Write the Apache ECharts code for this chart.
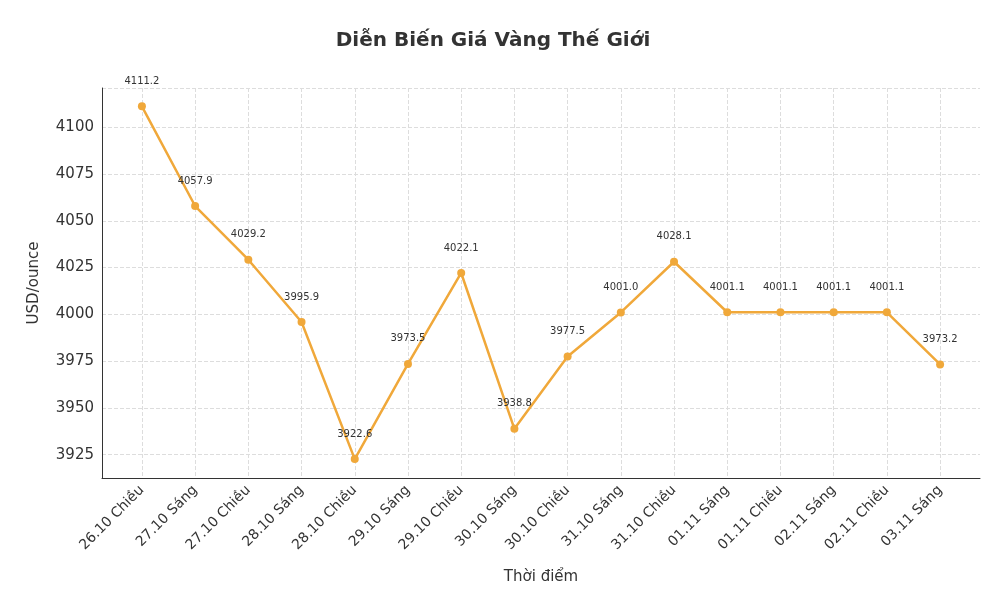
<!DOCTYPE html>
<html><head><meta charset="utf-8">
<script src="https://cdn.jsdelivr.net/npm/echarts@6/dist/echarts.min.js"></script>
<style>html,body{margin:0;padding:0;background:#fff}#c{width:986px;height:604px}</style>
</head><body><div id="c"></div>
<script>
var categories = ['26.10 Chiều','27.10 Sáng','27.10 Chiều','28.10 Sáng','28.10 Chiều','29.10 Sáng','29.10 Chiều','30.10 Sáng','30.10 Chiều','31.10 Sáng','31.10 Chiều','01.11 Sáng','01.11 Chiều','02.11 Sáng','02.11 Chiều','03.11 Sáng'];
var prices = [4111.2,4057.9,4029.2,3995.9,3922.6,3973.5,4022.1,3938.8,3977.5,4001.0,4028.1,4001.1,4001.1,4001.1,4001.1,3973.2];

var font = 'DejaVu Sans';
var chart = echarts.init(document.getElementById('c'));
chart.setOption({
  textStyle: {fontFamily: font},
  title: {text: 'Diễn Biến Giá Vàng Thế Giới', left: 'center', top: 26,
    textStyle: {fontFamily: font, fontSize: 20, fontWeight: 'bold', color: '#333'}},
  grid: {left: 102, right: 6, top: 88, bottom: 126},
  xAxis: {
    type: 'value', min: -0.75, max: 15.75, interval: 0.25,
    name: 'Thời điểm', nameLocation: 'middle', nameGap: 92,
    nameTextStyle: {fontSize: 15, color: '#333'},
    axisLine: {onZero: false, lineStyle: {color: '#333'}},
    axisTick: {show: false},
    splitLine: {show: true, lineStyle: {color: ['transparent', 'transparent', 'transparent', '#ddd'], type: 'dashed'}},
    axisLabel: {rotate: 45, fontSize: 14, color: '#333', margin: 10,
      formatter: function (v) { return Number.isInteger(v) && categories[v] ? categories[v] : ''; }}
  },
  yAxis: {
    type: 'value', min: 3912.5, max: 4121, interval: 12.5,
    name: 'USD/ounce', nameLocation: 'middle', nameGap: 60,
    nameTextStyle: {fontSize: 15, color: '#333'},
    axisLine: {show: true, onZero: false, lineStyle: {color: '#333'}},
    axisTick: {show: false},
    splitLine: {lineStyle: {color: ['transparent', '#ddd'], type: 'dashed'}},
    axisLabel: {fontSize: 15, color: '#333',
      formatter: function (v) { return v % 25 === 0 ? String(v) : ''; }}
  },
  series: [{
    type: 'line',
    data: prices.map(function (p, i) { return [i, p]; }),
    symbol: 'circle', symbolSize: 8,
    lineStyle: {color: '#f0a83a', width: 2.5},
    itemStyle: {color: '#f0a83a'},
    label: {show: true, position: 'top', distance: 16, fontSize: 10, color: '#333',
      formatter: function (p) { return p.value[1].toFixed(1); }}
  }]
});
</script></body></html>
